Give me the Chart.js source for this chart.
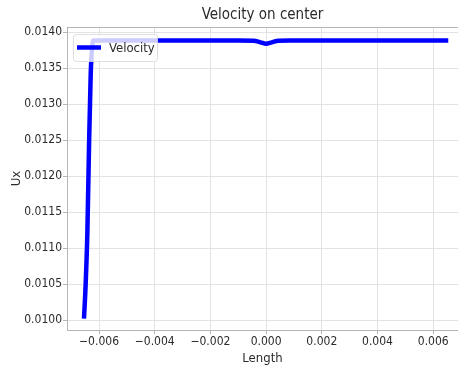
<!DOCTYPE html>
<html lang="en">
<head>
    <meta charset="UTF-8">
    <title>Velocity on center</title>
    <script src="https://cdn.jsdelivr.net/npm/chart.js"></script>
    <style>
        body {
            margin: 0;
            background: #fff;
        }
        #chartContainer {
            width: 458px;
            height: 367px;
        }
    </style>
</head>
<body>
    <div id="chartContainer">
        <canvas id="velocityChart"></canvas>
    </div>

    <script>
        // values
        const lengthValues = [-0.00654, -0.00648, -0.00642, -0.00636, -0.00630, -0.00625, -0.00620,
            -0.00500, -0.00300, -0.00100, -0.00045, -0.00020, 0.00000, 0.00020, 0.00045,
            0.00100, 0.00300, 0.00500, 0.00654];
        const velocityValues = [0.01002, 0.01050, 0.01120, 0.01240, 0.01340, 0.01378, 0.013885,
            0.013885, 0.013885, 0.013885, 0.013884, 0.01386, 0.01384, 0.01386, 0.013884,
            0.013885, 0.013885, 0.013885, 0.013885];
        const xTicks = [-0.006, -0.004, -0.002, 0.000, 0.002, 0.004, 0.006];
        const yTicks = [0.0100, 0.0105, 0.0110, 0.0115, 0.0120, 0.0125, 0.0130, 0.0135, 0.0140];

        const fontFamily = "'DejaVu Sans Condensed', 'Liberation Sans Narrow', 'DejaVu Sans', sans-serif";
        const textColor = '#2b2b2b';
        const spineColor = '#b5b5b5';
        const gridColor = '#e3e3e3';

        const points = lengthValues.map((x, i) => ({ x: x, y: velocityValues[i] }));

        // top spine plus a legend box inside the plot, like matplotlib
        const framePlugin = {
            id: 'frame',
            beforeDatasetsDraw(chart) {
                const { ctx, chartArea } = chart;
                ctx.save();
                ctx.strokeStyle = spineColor;
                ctx.lineWidth = 1;
                ctx.beginPath();
                ctx.moveTo(chartArea.left, chartArea.top + 0.5);
                ctx.lineTo(chartArea.right, chartArea.top + 0.5);
                ctx.stroke();
                ctx.restore();
            },
            afterDatasetsDraw(chart) {
                const { ctx, chartArea } = chart;
                const ds = chart.data.datasets[0];
                const x0 = chartArea.left + 6;
                const y0 = chartArea.top + 7;
                const w = 84;
                const h = 27;
                ctx.save();
                ctx.fillStyle = 'rgba(255,255,255,0.8)';
                ctx.strokeStyle = 'rgba(215,215,215,0.8)';
                ctx.lineWidth = 1;
                ctx.beginPath();
                ctx.roundRect(x0 + 0.5, y0 + 0.5, w, h, 3);
                ctx.fill();
                ctx.stroke();
                ctx.strokeStyle = ds.borderColor;
                ctx.lineWidth = ds.borderWidth;
                ctx.beginPath();
                ctx.moveTo(x0 + 4, y0 + h / 2);
                ctx.lineTo(x0 + 28, y0 + h / 2);
                ctx.stroke();
                ctx.fillStyle = textColor;
                ctx.font = '13px ' + fontFamily;
                ctx.textBaseline = 'middle';
                ctx.fillText(ds.label, x0 + 36, y0 + h / 2 + 1);
                ctx.restore();
            }
        };

        const ctx = document.getElementById('velocityChart').getContext('2d');
        const myChart = new Chart(ctx, {
            type: 'line',
            data: {
                datasets: [{
                    label: 'Velocity',
                    data: points,
                    borderColor: '#0000ff',
                    borderWidth: 4.5,
                    pointRadius: 0,
                    cubicInterpolationMode: 'monotone',
                    fill: false
                }]
            },
            options: {
                responsive: true,
                maintainAspectRatio: false,
                animation: false,
                layout: { padding: 0 },
                scales: {
                    x: {
                        type: 'linear',
                        min: -0.00715,
                        max: 0.00689,
                        afterBuildTicks: scale => {
                            scale.ticks = xTicks.map(v => ({ value: v }));
                        },
                        afterFit: scale => {
                            scale.height = 37;
                        },
                        ticks: {
                            color: textColor,
                            padding: 1,
                            maxRotation: 0,
                            font: { family: fontFamily, size: 12 },
                            callback: v => v.toFixed(3).replace('-', '\u2212')
                        },
                        grid: {
                            color: gridColor,
                            tickColor: spineColor,
                            tickLength: 4
                        },
                        border: { color: spineColor },
                        title: {
                            display: true,
                            text: 'Length',
                            color: textColor,
                            font: { family: fontFamily, size: 13 },
                            padding: { top: 0, bottom: 1 }
                        }
                    },
                    y: {
                        min: 0.009861,
                        max: 0.014074,
                        afterBuildTicks: scale => {
                            scale.ticks = yTicks.map(v => ({ value: v }));
                        },
                        afterFit: scale => {
                            scale.width = 67;
                        },
                        ticks: {
                            color: textColor,
                            padding: 1,
                            font: { family: fontFamily, size: 12 },
                            callback: v => v.toFixed(4)
                        },
                        grid: {
                            color: gridColor,
                            tickColor: spineColor,
                            tickLength: 4
                        },
                        border: { color: spineColor },
                        title: {
                            display: true,
                            text: 'Ux',
                            color: textColor,
                            font: { family: fontFamily, size: 13 },
                            padding: { top: 9, bottom: 0 }
                        }
                    }
                },
                plugins: {
                    legend: { display: false },
                    tooltip: { enabled: false },
                    title: {
                        display: true,
                        text: 'Velocity on center',
                        color: textColor,
                        fullSize: false,
                        font: { family: fontFamily, size: 15, weight: 'normal' },
                        padding: { top: 6, bottom: 3 }
                    }
                }
            },
            plugins: [framePlugin]
        });
    </script>
</body>
</html>
